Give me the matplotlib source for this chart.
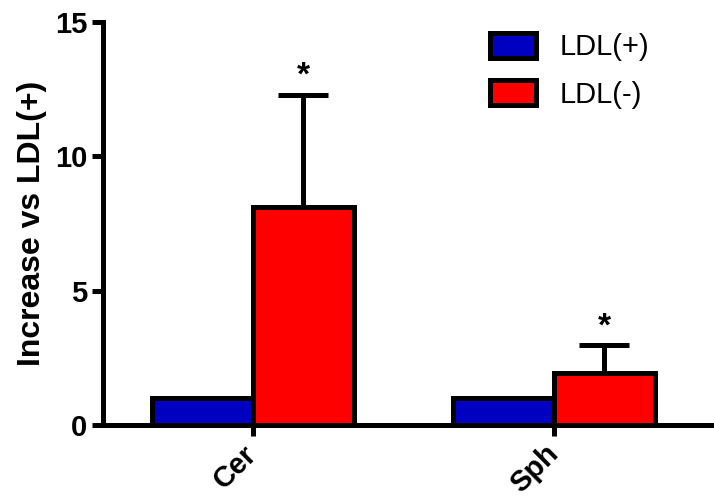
import numpy as np
import matplotlib.pyplot as plt
from matplotlib.transforms import ScaledTranslation

plt.rcParams['font.family'] = ['Liberation Sans', 'DejaVu Sans']

# data
categories = ['Cer', 'Sph']
ldl_pos = [1.0, 1.0]
ldl_neg = [8.1, 1.95]
ldl_neg_err = [4.2, 1.03]
signif = ['*', '*']

x = np.arange(len(categories))
w = 0.335
lw = 3.6

fig = plt.figure(figsize=(7.14, 5.04), dpi=100)
ax = fig.add_axes([0.144, 0.157, 0.856, 0.799])

ax.bar(x - w / 2, ldl_pos, w, color='#0000c0', edgecolor='black', linewidth=lw,
       label='LDL(+)', zorder=3)
ax.bar(x + w / 2, ldl_neg, w, color='#ff0000', edgecolor='black', linewidth=lw,
       label='LDL(-)', zorder=3)
ax.errorbar(x + w / 2, ldl_neg, yerr=[np.zeros(len(ldl_neg)), ldl_neg_err],
            fmt='none', ecolor='black', elinewidth=lw, capsize=18, capthick=lw,
            zorder=2)

# asterisks above error bars
for xi, v, e, s in zip(x, ldl_neg, ldl_neg_err, signif):
    ax.text(xi + w / 2, v + e + 0.1, s, ha='center', va='bottom',
            fontsize=24, fontweight='bold')

ax.set_xlim(-0.498, 1.532)
ax.set_ylim(0, 15)
ax.set_yticks([0, 5, 10, 15])
ax.set_xticks(x)
ax.set_xticklabels([])
# rotated category labels, anchored just below the ticks
shift = ScaledTranslation(-10 / 100, -15 / 100, fig.dpi_scale_trans)
for xi, c in zip(x, categories):
    ax.text(xi, 0, c, rotation=45, ha='right', va='top', rotation_mode='anchor',
            fontsize=21, fontweight='bold',
            transform=ax.get_xaxis_transform() + shift)
for t in ax.get_yticklabels():
    t.set_fontsize(21)
    t.set_fontweight('bold')
ax.set_ylabel('Increase vs LDL(+)', fontsize=23, fontweight='bold', labelpad=6)

ax.spines['top'].set_visible(False)
ax.spines['right'].set_visible(False)
ax.spines['left'].set_linewidth(lw)
ax.spines['bottom'].set_linewidth(lw)
ax.tick_params(axis='both', width=lw, length=8, direction='out', pad=3)
ax.spines['bottom'].set_zorder(4)

ax.legend(loc='upper left', bbox_to_anchor=(0.686, 0.935), bbox_transform=fig.transFigure,
          frameon=False, fontsize=21, handlelength=1.6, handleheight=0.95,
          handletextpad=0.8, labelspacing=0.65, borderpad=0, borderaxespad=0)

fig.savefig('out.png', dpi=100)
